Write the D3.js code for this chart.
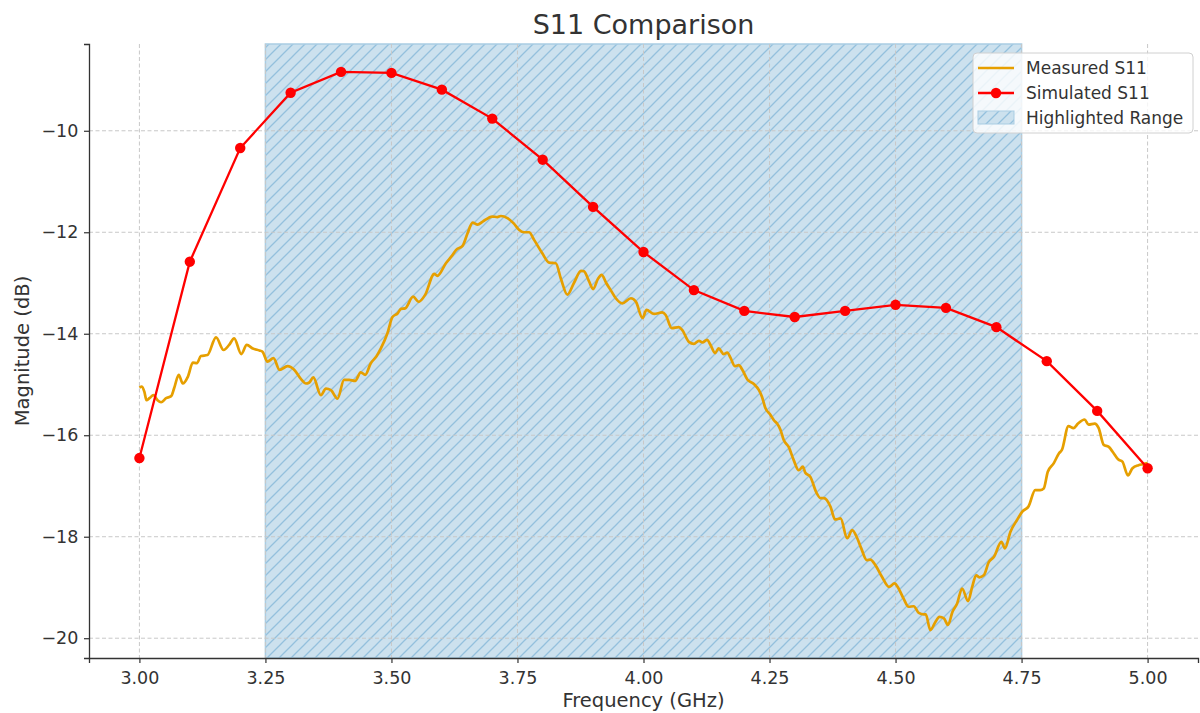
<!DOCTYPE html>
<html>
<head>
<meta charset="utf-8">
<script src="https://cdn.jsdelivr.net/npm/d3@7"></script>
<style>
  body { margin: 0; background: #fff; }
  text { font-family: "DejaVu Sans", sans-serif; fill: #333; }
</style>
</head>
<body>
<div id="chart"></div>
<script>
// simulated S11, one point every 0.1 GHz
var simFreq = [3.0, 3.1, 3.2, 3.3, 3.4, 3.5, 3.6, 3.7, 3.8, 3.9, 4.0, 4.1, 4.2, 4.3, 4.4, 4.5, 4.6, 4.7, 4.8, 4.9, 5.0];
var simDb = [-16.45, -12.58, -10.34, -9.25, -8.84, -8.86, -9.19, -9.76, -10.57, -11.50, -12.39, -13.14, -13.55, -13.67, -13.55, -13.43, -13.49, -13.87, -14.54, -15.52, -16.65];

// measured S11
var measFreq = [3.000, 3.005, 3.010, 3.014, 3.020, 3.028, 3.036, 3.043, 3.053, 3.063, 3.069, 3.078, 3.086, 3.096, 3.106, 3.114, 3.122, 3.135, 3.152, 3.167,
  3.178, 3.188, 3.202, 3.213, 3.225, 3.238, 3.244, 3.254, 3.266, 3.278, 3.294, 3.307, 3.321, 3.330, 3.337, 3.345, 3.360, 3.370, 3.380, 3.393,
  3.406, 3.416, 3.428, 3.439, 3.448, 3.459, 3.470, 3.479, 3.492, 3.502, 3.512, 3.519, 3.527, 3.543, 3.554, 3.567, 3.585, 3.591, 3.608, 3.621,
  3.628, 3.641, 3.651, 3.661, 3.671, 3.681, 3.700, 3.710, 3.717, 3.730, 3.743, 3.753, 3.763, 3.773, 3.783, 3.799, 3.813, 3.826, 3.836, 3.849,
  3.862, 3.876, 3.882, 3.892, 3.900, 3.910, 3.917, 3.926, 3.935, 3.945, 3.958, 3.975, 3.985, 3.998, 4.006, 4.021, 4.037, 4.044, 4.056, 4.070,
  4.077, 4.090, 4.100, 4.110, 4.117, 4.126, 4.133, 4.142, 4.149, 4.159, 4.166, 4.173, 4.181, 4.189, 4.196, 4.206, 4.219, 4.229, 4.235, 4.242,
  4.252, 4.259, 4.265, 4.272, 4.278, 4.288, 4.298, 4.308, 4.316, 4.321, 4.331, 4.343, 4.351, 4.358, 4.371, 4.380, 4.391, 4.404, 4.414, 4.424,
  4.432, 4.443, 4.450, 4.460, 4.473, 4.487, 4.498, 4.506, 4.516, 4.526, 4.536, 4.546, 4.556, 4.560, 4.569, 4.579, 4.587, 4.596, 4.604, 4.613,
  4.622, 4.632, 4.644, 4.652, 4.660, 4.666, 4.675, 4.685, 4.695, 4.710, 4.717, 4.728, 4.741, 4.751, 4.764, 4.777, 4.787, 4.794, 4.802, 4.814,
  4.824, 4.830, 4.843, 4.853, 4.862, 4.875, 4.883, 4.895, 4.903, 4.913, 4.923, 4.931, 4.942, 4.950, 4.961, 4.970, 4.982, 4.992, 5.000];
var measDb = [-15.06, -15.04, -15.15, -15.31, -15.27, -15.21, -15.31, -15.35, -15.27, -15.23, -15.07, -14.81, -14.98, -14.85, -14.57, -14.58, -14.44, -14.42, -14.07, -14.32,
  -14.22, -14.09, -14.40, -14.22, -14.29, -14.33, -14.35, -14.55, -14.48, -14.71, -14.64, -14.71, -14.90, -14.98, -14.96, -14.86, -15.21, -15.08, -15.11, -15.28,
  -14.91, -14.91, -14.93, -14.76, -14.81, -14.58, -14.45, -14.29, -13.99, -13.67, -13.60, -13.51, -13.50, -13.27, -13.37, -13.23, -12.82, -12.86, -12.61, -12.45,
  -12.35, -12.27, -12.02, -11.81, -11.85, -11.79, -11.69, -11.70, -11.68, -11.72, -11.83, -11.95, -12.00, -12.00, -12.15, -12.41, -12.60, -12.61, -12.91, -13.23,
  -13.00, -12.76, -12.77, -12.97, -13.12, -12.91, -12.84, -13.00, -13.14, -13.30, -13.40, -13.30, -13.37, -13.69, -13.53, -13.61, -13.58, -13.63, -13.89, -13.87,
  -13.93, -14.16, -14.20, -14.14, -14.17, -14.12, -14.22, -14.38, -14.29, -14.40, -14.37, -14.48, -14.64, -14.62, -14.71, -14.90, -14.99, -15.11, -15.24, -15.47,
  -15.60, -15.71, -15.77, -15.90, -16.09, -16.23, -16.49, -16.69, -16.62, -16.74, -16.82, -17.13, -17.24, -17.24, -17.41, -17.66, -17.64, -18.03, -17.87, -18.03,
  -18.23, -18.46, -18.45, -18.56, -18.79, -18.99, -18.92, -19.02, -19.22, -19.38, -19.37, -19.50, -19.53, -19.53, -19.84, -19.68, -19.58, -19.61, -19.74, -19.48,
  -19.32, -19.02, -19.27, -18.99, -18.76, -18.80, -18.76, -18.50, -18.40, -18.10, -18.23, -17.90, -17.67, -17.51, -17.40, -17.08, -17.08, -17.05, -16.72, -16.55,
  -16.36, -16.29, -15.82, -15.86, -15.77, -15.69, -15.79, -15.77, -15.86, -16.19, -16.23, -16.33, -16.48, -16.52, -16.79, -16.65, -16.59, -16.57, -16.55];

var highlight = [3.25, 4.75];
var xTicks = [3.00, 3.25, 3.50, 3.75, 4.00, 4.25, 4.50, 4.75, 5.00];
var yTicks = [-20, -18, -16, -14, -12, -10];
var legendLabels = ["Measured S11", "Simulated S11", "Highlighted Range"];

var W = 1200, H = 713;
var margin = {top: 44, right: 2, bottom: 55, left: 89};
var width = W - margin.left - margin.right,
    height = H - margin.top - margin.bottom;

var svg = d3.select("#chart").append("svg")
  .attr("width", W)
  .attr("height", H);

var hs = 12;
var defs = svg.append("defs");
var hatch = defs.append("pattern")
  .attr("id", "hatch")
  .attr("patternUnits", "userSpaceOnUse")
  .attr("width", hs)
  .attr("height", hs);
hatch.append("rect").attr("width", hs).attr("height", hs).attr("fill", "#cce1ee");
hatch.append("path")
  .attr("d", "M-3,3 L3,-3 M0," + hs + " L" + hs + ",0 M" + (hs - 3) + "," + (hs + 3) + " L" + (hs + 3) + "," + (hs - 3))
  .attr("stroke", "#94c0dd")
  .attr("stroke-width", 1.3);

var g = svg.append("g")
  .attr("transform", "translate(" + margin.left + "," + margin.top + ")");

var measured = measFreq.map(function(f, i){ return {f: f, v: measDb[i]}; });
var simulated = simFreq.map(function(f, i){ return {f: f, v: simDb[i]}; });

var x = d3.scaleLinear()
  .domain([2.9, 5.1])
  .range([0, width]);

var allV = measDb.concat(simDb);
var lo = d3.min(allV), hi = d3.max(allV), pad = (hi - lo) * 0.05;
var y = d3.scaleLinear()
  .domain([lo - pad, hi + pad])
  .range([height, 0]);

// highlighted span
g.append("rect")
  .attr("x", x(highlight[0]))
  .attr("y", 0)
  .attr("width", x(highlight[1]) - x(highlight[0]))
  .attr("height", height)
  .attr("fill", "url(#hatch)")
  .attr("stroke", "#a9cde3")
  .attr("stroke-width", 1.5);

// grid
g.selectAll(".gx").data(xTicks).enter().append("line")
  .attr("class", "gx")
  .attr("x1", function(d){ return x(d); })
  .attr("x2", function(d){ return x(d); })
  .attr("y1", 0).attr("y2", height)
  .attr("stroke", "#c8c8c8").attr("stroke-width", 1).attr("stroke-dasharray", "4,2.5");
g.selectAll(".gy").data(yTicks).enter().append("line")
  .attr("class", "gy")
  .attr("y1", function(d){ return y(d); })
  .attr("y2", function(d){ return y(d); })
  .attr("x1", 0).attr("x2", width)
  .attr("stroke", "#c8c8c8").attr("stroke-width", 1).attr("stroke-dasharray", "4,2.5");

var line = d3.line()
  .x(function(d){ return x(d.f); })
  .y(function(d){ return y(d.v); })
  .curve(d3.curveMonotoneX);

g.append("path")
  .datum(measured)
  .attr("fill", "none")
  .attr("stroke", "#e69f00")
  .attr("stroke-width", 2.7)
  .attr("stroke-linejoin", "round")
  .attr("d", line);

g.append("path")
  .datum(simulated)
  .attr("fill", "none")
  .attr("stroke", "#ff0000")
  .attr("stroke-width", 2.3)
  .attr("d", line.curve(d3.curveLinear));

g.selectAll(".dot").data(simulated).enter().append("circle")
  .attr("class", "dot")
  .attr("cx", function(d){ return x(d.f); })
  .attr("cy", function(d){ return y(d.v); })
  .attr("r", 5.2)
  .attr("fill", "#ff0000");

// axes
var xAxis = g.append("g")
  .attr("transform", "translate(0," + height + ")")
  .call(d3.axisBottom(x).tickValues(xTicks).tickFormat(d3.format(".2f")).tickSizeOuter(0).tickSize(5));
var yAxis = g.append("g")
  .call(d3.axisLeft(y).tickValues(yTicks).tickFormat(function(d){ return "\u2212" + Math.abs(d); }).tickSizeOuter(0).tickSize(5));

[xAxis, yAxis].forEach(function(a){
  a.select(".domain").attr("stroke", "#333").attr("stroke-width", 1.3);
  a.selectAll(".tick line").attr("stroke", "#333").attr("stroke-width", 1.2);
  a.selectAll(".tick text")
    .attr("font-family", "DejaVu Sans")
    .attr("font-size", "17.5px")
    .style("fill", "#333");
});
xAxis.selectAll(".tick text").attr("dy", "1.0em");
yAxis.selectAll(".tick text").attr("dx", "-0.15em");

svg.append("text")
  .attr("x", margin.left + width / 2)
  .attr("y", 34)
  .attr("text-anchor", "middle")
  .attr("font-size", "27px")
  .text("S11 Comparison");

svg.append("text")
  .attr("x", margin.left + width / 2)
  .attr("y", 707)
  .attr("text-anchor", "middle")
  .attr("font-size", "19.5px")
  .text("Frequency (GHz)");

svg.append("text")
  .attr("transform", "translate(29," + (margin.top + height / 2) + ") rotate(-90)")
  .attr("text-anchor", "middle")
  .attr("font-size", "19.5px")
  .text("Magnitude (dB)");

// legend
var lg = svg.append("g").attr("transform", "translate(973,53)");
lg.append("rect")
  .attr("width", 220).attr("height", 80)
  .attr("rx", 4)
  .attr("fill", "rgba(255,255,255,0.8)")
  .attr("stroke", "#d0d0d0");

var rows = lg.selectAll(".row").data(legendLabels).enter().append("g")
  .attr("class", "row")
  .attr("transform", function(d, i){ return "translate(0," + (15 + i * 25) + ")"; });

rows.append("text")
  .attr("x", 53)
  .attr("y", 6)
  .attr("font-size", "17px")
  .text(function(d){ return d; });

lg.append("line").attr("x1", 5).attr("x2", 41).attr("y1", 15).attr("y2", 15)
  .attr("stroke", "#e69f00").attr("stroke-width", 2.7);
lg.append("line").attr("x1", 5).attr("x2", 41).attr("y1", 40).attr("y2", 40)
  .attr("stroke", "#ff0000").attr("stroke-width", 2.3);
lg.append("circle").attr("cx", 23).attr("cy", 40).attr("r", 5.2).attr("fill", "#ff0000");
lg.append("rect").attr("x", 5).attr("y", 58).attr("width", 36).attr("height", 13)
  .attr("fill", "url(#hatch)").attr("stroke", "#a9cde3");
</script>
</body>
</html>
